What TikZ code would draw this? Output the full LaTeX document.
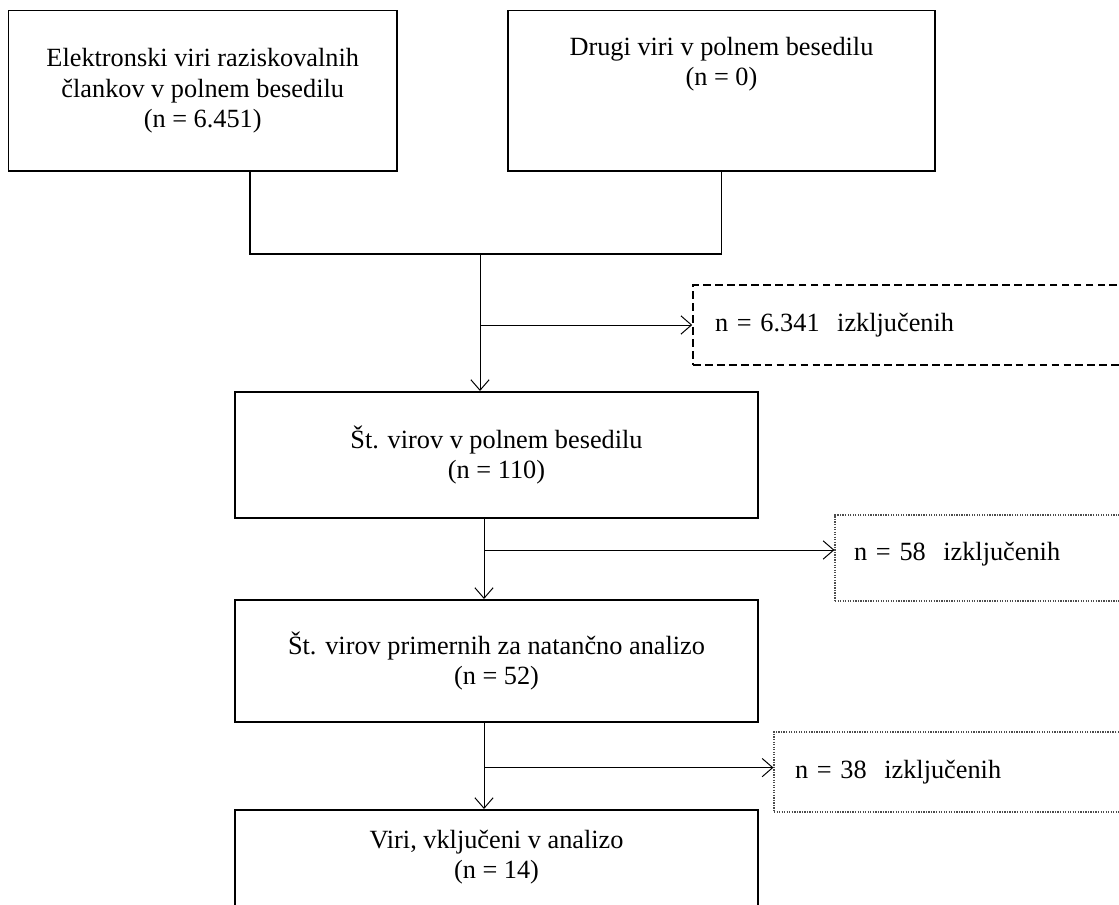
\documentclass[tikz,border=0pt]{standalone}
\usepackage{fontspec}
\setmainfont{Liberation Serif}
\usetikzlibrary{arrows.meta}
\newdimen\pxu \pxu=0.025cm

\begin{document}
\begin{tikzpicture}[x=0.025cm,y=-0.025cm]
		\tikzstyle{box}=[draw,line width=1.4pt,align=center,inner sep=0pt,minimum width=523\pxu,font=\fontsize{18.7}{21.5}\selectfont]
		\tikzstyle{txt}=[align=center,inner sep=0pt,font=\fontsize{18.7}{21.5}\selectfont]
		\tikzstyle{outbox}=[align=left,text width=403\pxu,inner ysep=0pt,minimum height=80\pxu,font=\fontsize{18.7}{21.5}\selectfont]
		\tikzstyle{outdash}=[outbox,draw,line width=1.1pt,dash pattern=on 5.5pt off 3pt]
		\tikzstyle{outdot}=[outbox,draw=black!70,line width=0.8pt,dash pattern=on 0.9pt off 0.9pt]
		\tikzstyle{link}=[line width=1.1pt]
		\tikzstyle{arr}=[line width=0.7pt,-{Straight Barb[length=7.5pt,width=13pt]}]

		\path[use as bounding box,clip] (0,0) rectangle (1119,905);

		% sources
		\node[box,minimum width=388.5\pxu,minimum height=160.5\pxu] (src) at (202.75,90.75) {Elektronski viri raziskovalnih\\člankov v polnem besedilu\\(n = 6.451)};
		\node[box,minimum width=427\pxu,minimum height=160.5\pxu] (oth) at (721.5,90.75) {};
		\node[txt] (othtxt) at (721.5,64) {Drugi viri v polnem besedilu\\(n = 0)};

		% screening steps
		\node[box,minimum height=126\pxu] (full) at (496.5,455) {Št. virov v polnem besedilu\\(n = 110)};
		\node[box,minimum height=122\pxu] (prim) at (496.5,661) {Št. virov primernih za natančno analizo\\(n = 52)};
		\node[box,minimum height=150\pxu] (incl) at (496.5,885) {};
		\node[txt] (incltxt) at (496.5,857) {Viri, vključeni v analizo\\(n = 14)};

		% excluded
		\node[outdash,inner xsep=22\pxu] (exa) at (916.5,325) {n = 6.341\ \ izključenih};
		\node[outdot,inner xsep=19\pxu,minimum height=86\pxu,text depth=14\pxu] (exb) at (1055.5,558) {n = 58\ \ izključenih};
		\node[outdot,inner xsep=21\pxu,minimum height=80\pxu] (exc) at (996.5,772) {n = 38\ \ izključenih};

		\coordinate (jn) at (480,254);
		\draw[link] ([xshift=47.25\pxu]src.south) |- (jn) -| (oth.south);
		\draw[arr] (jn) -- (jn |- full.north);
		\draw[arr] (jn |- exa.west) -- (exa.west);

		\coordinate (k1) at (484,518);
		\coordinate (s2) at (484,550);
		\draw[arr] (k1) -- (k1 |- prim.north);
		\draw[arr] (s2) -- (s2 -| exb.west);

		\coordinate (k2) at (484,722);
		\coordinate (s3) at (484,767.6);
		\draw[arr] (k2) -- (k2 |- incl.north);
		\draw[arr] (s3) -- (s3 -| exc.west);
	\end{tikzpicture}
\end{document}
